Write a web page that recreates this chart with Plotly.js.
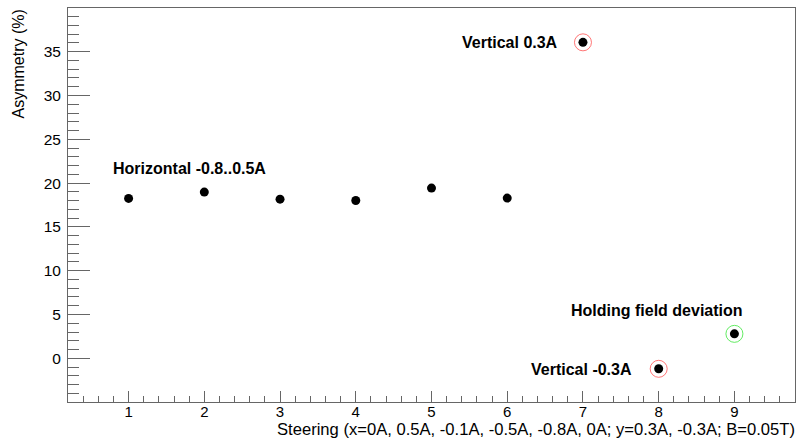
<!DOCTYPE html>
<html>
<head>
<meta charset="utf-8">
<script src="https://cdn.plot.ly/plotly-3.0.1.min.js"></script>
<style>html,body{margin:0;padding:0;background:#fff;}#chart{width:798px;height:438px;}</style>
</head>
<body>
<div id="chart"></div>
<script>
// Data
const steeringX = [1, 2, 3, 4, 5, 6, 7, 8, 9];
const asymmetry = [18.25, 18.97, 18.17, 18.02, 19.43, 18.29, 36.07, -1.2, 2.79];
const redRingX = [7, 8];
const redRingY = [36.07, -1.2];
const greenRingX = [9];
const greenRingY = [2.79];
const labelTexts = ["Horizontal -0.8..0.5A", "Vertical 0.3A", "Holding field deviation", "Vertical -0.3A"];
const labelX = [0.77, 5.37, 6.82, 6.29];
const labelY = [21.7, 36.0, 5.5, -1.24];
const xTitle = "Steering (x=0A, 0.5A, -0.1A, -0.5A, -0.8A, 0A; y=0.3A, -0.3A; B=0.05T)";
const yTitle = "Asymmetry (%)";

const font = "Liberation Sans, Arial, Helvetica, sans-serif";
const axisColor = "#666";

const traces = [
  {x: redRingX, y: redRingY, mode: "markers", type: "scatter", hoverinfo: "skip",
   marker: {symbol: "circle-open", size: 17, color: "rgba(255,60,60,0.7)", line: {width: 1, color: "rgba(255,60,60,0.7)"}}},
  {x: greenRingX, y: greenRingY, mode: "markers", type: "scatter", hoverinfo: "skip",
   marker: {symbol: "circle-open", size: 17, color: "rgba(60,230,60,0.8)", line: {width: 1, color: "rgba(60,230,60,0.8)"}}},
  {x: steeringX, y: asymmetry, mode: "markers", type: "scatter",
   marker: {symbol: "circle", size: 9, color: "#000"}}
];

const annotations = labelTexts.map((t, i) => ({
  x: labelX[i], y: labelY[i], xref: "x", yref: "y", text: "<b>" + t + "</b>",
  showarrow: false, xanchor: "left", yanchor: "middle",
  font: {family: font, size: 16, color: "#000"}
}));
annotations.push({
  x: 1, y: 0, xref: "paper", yref: "paper", xshift: 2, yshift: -27, text: xTitle, showarrow: false,
  xanchor: "right", yanchor: "middle", font: {family: font, size: 16.6, color: "#000"}
});
annotations.push({
  x: 0, y: 1, xref: "paper", yref: "paper", xshift: -50, yshift: 0, text: yTitle, showarrow: false,
  textangle: -90, xanchor: "center", yanchor: "top", font: {family: font, size: 16, color: "#000"}
});

const layout = {
  width: 798, height: 438,
  margin: {l: 68, r: 3, t: 8, b: 36, pad: 0},
  paper_bgcolor: "#fff", plot_bgcolor: "#fff",
  showlegend: false,
  font: {family: font, size: 15, color: "#000"},
  xaxis: {
    range: [0.2, 9.8], tickmode: "linear", tick0: 0, dtick: 1,
    ticks: "inside", ticklen: 11, tickwidth: 1, tickcolor: axisColor,
    showline: true, linecolor: axisColor, linewidth: 1, mirror: true,
    showgrid: false, zeroline: false, ticklabelstandoff: -4,
    minor: {tickmode: "linear", tick0: 0, dtick: 0.2, ticks: "inside", ticklen: 6, tickcolor: axisColor, showgrid: false},
    tickfont: {family: font, size: 15, color: "#000"}
  },
  yaxis: {
    range: [-4.99, 39.99], tickmode: "linear", tick0: 0, dtick: 5,
    ticks: "inside", ticklen: 22, tickwidth: 1, tickcolor: axisColor,
    showline: true, linecolor: axisColor, linewidth: 1, mirror: true,
    showgrid: false, zeroline: false, ticklabelstandoff: 3,
    minor: {tickmode: "linear", tick0: 0, dtick: 1, ticks: "inside", ticklen: 11, tickcolor: axisColor, showgrid: false},
    tickfont: {family: font, size: 15.5, color: "#000"}
  },
  annotations: annotations
};

Plotly.newPlot("chart", traces, layout, {staticPlot: true, displayModeBar: false});
</script>
</body>
</html>
